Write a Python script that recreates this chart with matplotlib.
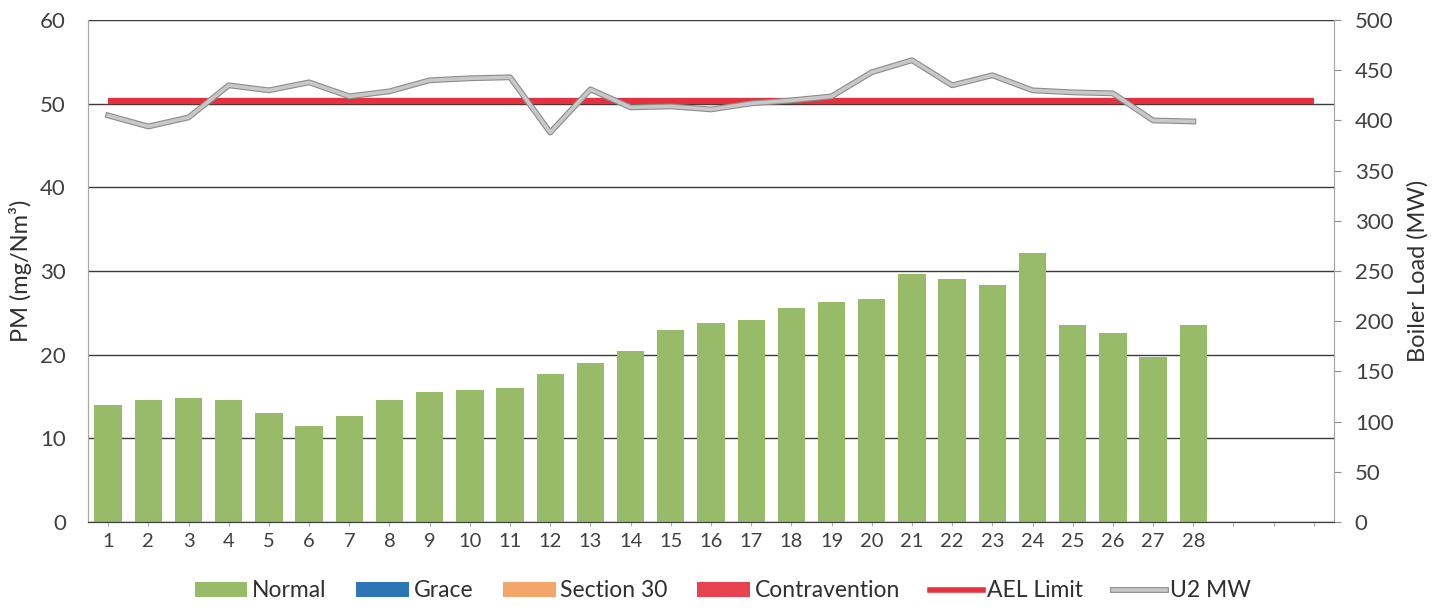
import matplotlib
matplotlib.use("Agg")
import matplotlib.pyplot as plt
import matplotlib.patheffects as pe
from matplotlib.patches import Patch
from matplotlib.lines import Line2D

plt.rcParams['font.family'] = ['Lato', 'DejaVu Sans']

days = list(range(1, 32))
day_labels = [str(d) if d <= 28 else '' for d in days]
pm_normal = [14.0, 14.6, 14.8, 14.6, 13.0, 11.5, 12.7, 14.6, 15.6, 15.8, 16.0, 17.7,
             19.0, 20.4, 23.0, 23.8, 24.2, 25.6, 26.3, 26.6, 29.6, 29.0, 28.3, 32.2,
             23.6, 22.6, 19.7, 23.5]
ael_limit = [50.3] * 31
u2_mw = [405, 394, 403, 435, 430, 438, 424, 429, 440, 442, 443, 388, 431, 413,
         414, 411, 417, 420, 424, 448, 460, 435, 445, 430, 428, 427, 400, 399]

GREEN = '#98BB6A'
BLUE = '#2E75B6'
ORANGE = '#F4A66A'
RED = '#E5303F'
GREY = '#C8C8C8'

fig = plt.figure(figsize=(14.46, 6.08), dpi=100)
ax = fig.add_axes([0.0609, 0.1414, 0.8616, 0.8256])
ax2 = ax.twinx()

ax.bar(days[:len(pm_normal)], pm_normal, width=0.68, color=GREEN, zorder=2)
ax.plot(days, ael_limit, color=RED, lw=4.5, solid_capstyle='butt', zorder=3)

ax.set_xlim(0.5, 31.5)
ax.set_ylim(0, 60)
ax.set_yticks(range(0, 61, 10))
ax.set_xticks(days)
ax.set_xticklabels(day_labels)
ax.yaxis.grid(True, color='#3a3a3a', lw=1.0, zorder=0)
ax.set_axisbelow(True)
ax.tick_params(axis='y', length=0, labelsize=16, colors='#404040', pad=16)
ax.tick_params(axis='x', length=3, color='#b0b0b0', labelsize=14.5, labelcolor='#404040', pad=5)
ax.set_ylabel('PM (mg/Nm³)', fontsize=17, color='#303030', labelpad=6)

ax2.plot(days[:len(u2_mw)], u2_mw, color=GREY, lw=2.6, zorder=4,
         path_effects=[pe.Stroke(linewidth=4.2, foreground='#8c8c8c'), pe.Normal()])
ax2.set_ylim(0, 500)
ax2.set_yticks(range(0, 501, 50))
ax2.tick_params(axis='y', length=5, color='#909090', labelsize=16, labelcolor='#404040', pad=10)
ax2.set_ylabel('Boiler Load (MW)', fontsize=17, color='#303030', labelpad=10)

for a in (ax, ax2):
    a.spines['top'].set_visible(False)
    a.spines['left'].set_color('#a8a8a8')
    a.spines['right'].set_color('#a8a8a8')
    a.spines['bottom'].set_color('#404040')

handles = [
    Patch(facecolor=GREEN, label='Normal'),
    Patch(facecolor=BLUE, label='Grace'),
    Patch(facecolor=ORANGE, label='Section 30'),
    Patch(facecolor='#E8444F', label='Contravention'),
    Line2D([0], [0], color=RED, lw=4, label='AEL Limit'),
    Line2D([0], [0], color=GREY, lw=2.6, label='U2 MW',
           path_effects=[pe.Stroke(linewidth=4.2, foreground='#8c8c8c'), pe.Normal()]),
]
fig.legend(handles=handles, loc='center', bbox_to_anchor=(0.5, 0.028), ncol=6,
           frameon=False, fontsize=16.5, handlelength=2.3, handleheight=0.6,
           columnspacing=1.3, handletextpad=0.2, labelcolor='#303030')

fig.savefig('out.png', dpi=100)
